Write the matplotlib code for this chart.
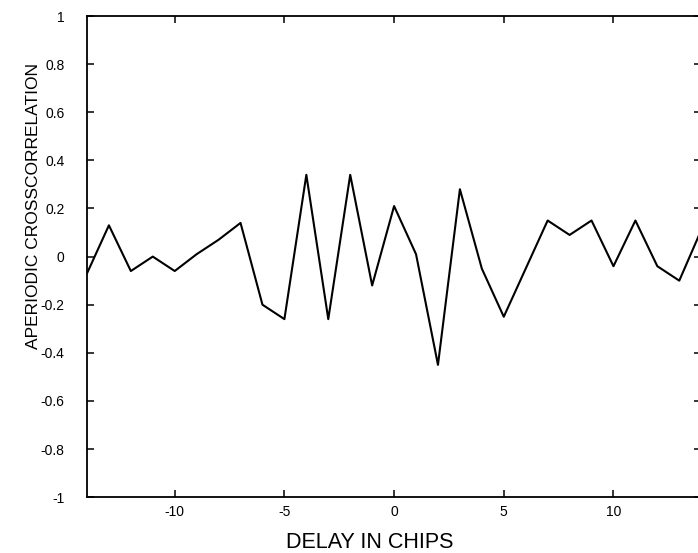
import matplotlib

matplotlib.use("Agg")

import matplotlib.pyplot as plt


delays = [
	-14, -13, -12, -11, -10, -9, -8, -7, -6, -5, -4, -3, -2, -1, 0,
	1, 2, 3, 4, 5, 6, 7, 8, 9, 10, 11, 12, 13, 14,
]

crosscorrelation = [
	-0.07, 0.13, -0.06, 0.00, -0.06, 0.01, 0.07, 0.14, -0.20, -0.26,
	0.34, -0.26, 0.34, -0.12, 0.21, 0.01, -0.45, 0.28, -0.05, -0.25,
	-0.05, 0.15, 0.09, 0.15, -0.04, 0.15, -0.04, -0.10, 0.11,
]

x_ticks = [-10, -5, 0, 5, 10]
x_tick_labels = ["-10", "-5", "0", "5", "10"]

y_ticks = [-1, -0.8, -0.6, -0.4, -0.2, 0, 0.2, 0.4, 0.6, 0.8, 1]
y_tick_labels = [
	"-1", "-0.8", "-0.6", "-0.4", "-0.2", "0",
	"0.2", "0.4", "0.6", "0.8", "1",
]

x_label = "DELAY IN CHIPS"
y_label = "APERIODIC CROSSCORRELATION"


def draw_chart(
	output_path: str,
) -> None:
	plt.rcParams["font.family"] = ["Liberation Sans", "DejaVu Sans"]
	plt.rcParams["axes.unicode_minus"] = False

	fig = plt.figure(
		figsize=(6.98, 5.53),
		dpi=100,
	)

	# right spine sits just past the image edge, as in the cropped scan
	ax = fig.add_axes(
		[0.1246, 0.101, 0.880, 0.870]
	)

	ax.plot(
		delays,
		crosscorrelation,
		color="black",
		linewidth=1.5,
	)

	ax.set_xlim(-14, 14)
	ax.set_ylim(-1, 1)

	ax.set_xticks(x_ticks)
	ax.set_xticklabels(x_tick_labels)
	ax.set_yticks(y_ticks)
	ax.set_yticklabels(y_tick_labels)

	ax.tick_params(
		axis="both",
		direction="in",
		length=5,
		width=1.1,
		top=True,
		right=True,
		labelsize=10,
	)
	ax.tick_params(axis="x", pad=6)
	ax.tick_params(axis="y", pad=16)

	for spine in ax.spines.values():
		spine.set_linewidth(1.3)

	ax.set_xlabel(
		x_label,
		fontsize=15.5,
	)
	ax.xaxis.set_label_coords(0.46, -0.072)
	ax.xaxis.label.set_verticalalignment("top")

	ax.set_ylabel(
		y_label,
		fontsize=12.5,
	)
	ax.yaxis.set_label_coords(-0.075, 0.605)

	fig.savefig(
		output_path,
		dpi=100,
	)

	plt.close(
		fig
	)


if __name__ == "__main__":
	draw_chart(
		"out.png"
	)
